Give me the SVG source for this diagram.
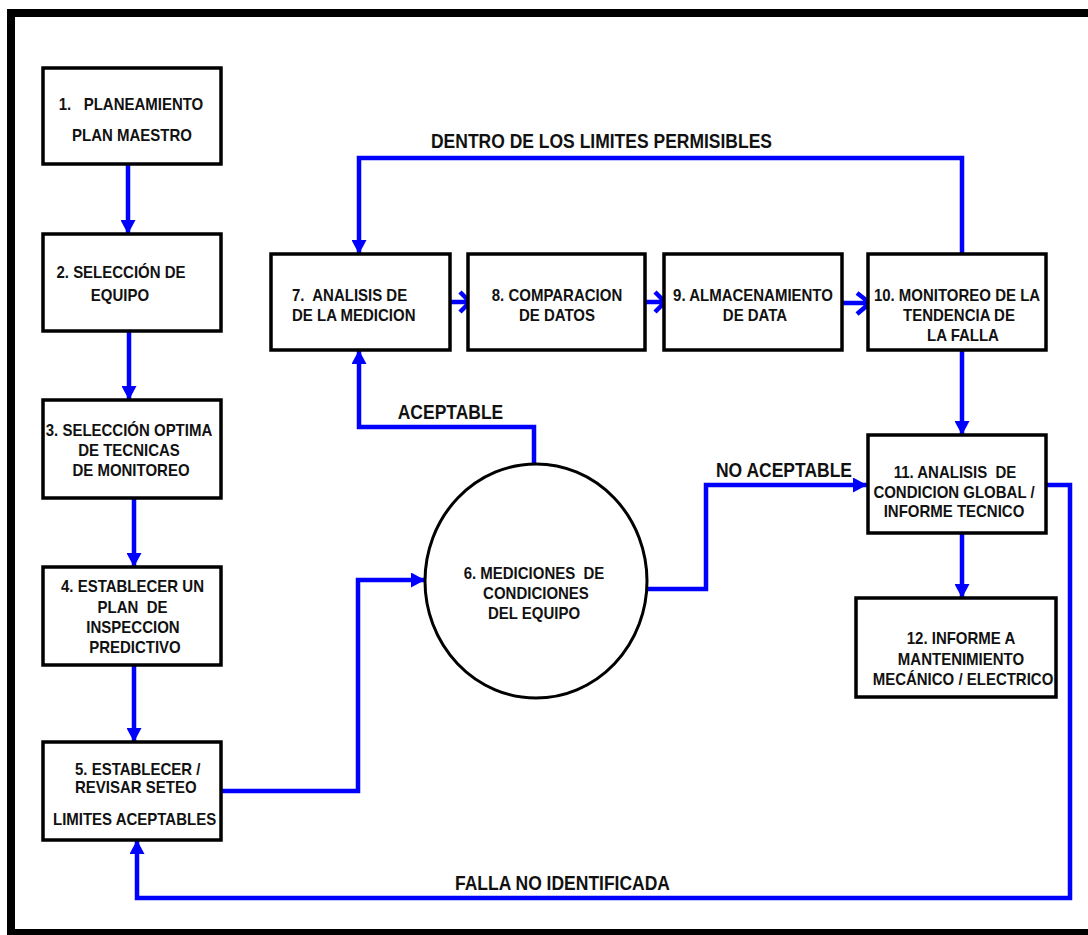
<svg xmlns="http://www.w3.org/2000/svg" width="1088" height="935" viewBox="0 0 1088 935">
  <style>
    .box { fill: #ffffff; stroke: #000000; stroke-width: 3.5; }
    .t { font-family: "Liberation Sans", Arial, sans-serif; font-weight: bold; font-size: 15px; fill: #111111; text-anchor: middle;
         transform-box: fill-box; transform-origin: center; transform: scaleY(1.09); }
    .ts { text-anchor: start; }
    .lbl { font-family: "Liberation Sans", Arial, sans-serif; font-weight: bold; font-size: 17.5px; fill: #111111; text-anchor: middle;
           transform-box: fill-box; transform-origin: center; transform: scaleY(1.15); }
    .wire { fill: none; stroke: #0000ff; stroke-width: 4.5; stroke-linejoin: miter; }
    .chev { fill: none; stroke: #0000ff; stroke-width: 4.5; stroke-linejoin: miter; stroke-linecap: butt; }
  </style>
  <defs>
    <marker id="head" markerUnits="userSpaceOnUse" markerWidth="14" markerHeight="15" refX="14" refY="7.5" orient="auto" viewBox="0 0 14 15">
      <path d="M0,0 L14,7.5 L0,15 Z" fill="#0000ff"/>
    </marker>
  </defs>

  <rect width="1088" height="935" fill="#ffffff"/>
  <!-- outer frame (right side runs off the page) -->
  <rect x="11" y="13" width="1100" height="920" fill="none" stroke="#000000" stroke-width="8"/>

  <!-- connectors -->
  <g id="connectors">
    <path class="wire" d="M128,165 V234" marker-end="url(#head)"/>
    <path class="wire" d="M129,331 V400" marker-end="url(#head)"/>
    <path class="wire" d="M134,498 V567" marker-end="url(#head)"/>
    <path class="wire" d="M134,665 V742" marker-end="url(#head)"/>
    <path class="wire" d="M222,791 H358 V580 H425" marker-end="url(#head)"/>
    <path class="wire" d="M534,465 V427 H359 V350" marker-end="url(#head)"/>
    <path class="wire" d="M647,589 H706 V485 H867" marker-end="url(#head)"/>
    <path class="wire" d="M962,254 V158 H359 V254" marker-end="url(#head)"/>
    <path class="wire" d="M962,350 V435" marker-end="url(#head)"/>
    <path class="wire" d="M962,533 V598" marker-end="url(#head)"/>
    <path class="wire" d="M1047,485 H1070 V898 H137 V840" marker-end="url(#head)"/>
    <!-- short links with open heads -->
    <path class="chev" d="M450,302 H469 M460,292 L470,302 L460,312"/>
    <path class="chev" d="M645,302 H664 M655,292 L665,302 L655,312"/>
    <path class="chev" d="M842,303 H870 M857,293 L870,303 L857,314"/>
  </g>

  <!-- connector labels -->
  <g id="labels">
    <text class="lbl" x="601.5" y="147.5">DENTRO DE LOS LIMITES PERMISIBLES</text>
    <text class="lbl" x="450.5" y="418.5">ACEPTABLE</text>
    <text class="lbl" x="784" y="476.5">NO ACEPTABLE</text>
    <text class="lbl" x="562.5" y="889.5">FALLA NO IDENTIFICADA</text>
  </g>

  <g id="n1">
    <rect class="box" x="43" y="68" width="178" height="96"/>
    <text class="t" x="131" y="110" xml:space="preserve">1.   PLANEAMIENTO</text>
    <text class="t" x="132" y="141">PLAN MAESTRO</text>
  </g>

  <g id="n2">
    <rect class="box" x="43" y="234" width="178" height="97"/>
    <text class="t" x="121" y="277">2. SELECCIÓN DE</text>
    <text class="t" x="120" y="301">EQUIPO</text>
  </g>

  <g id="n3">
    <rect class="box" x="43" y="400" width="178" height="98"/>
    <text class="t" x="129" y="435.5">3. SELECCIÓN OPTIMA</text>
    <text class="t" x="129" y="456">DE TECNICAS</text>
    <text class="t" x="131" y="475.5">DE MONITOREO</text>
  </g>

  <g id="n4">
    <rect class="box" x="43" y="567" width="178" height="98"/>
    <text class="t" x="132.5" y="591.5">4. ESTABLECER UN</text>
    <text class="t" x="132.5" y="612.5" xml:space="preserve">PLAN  DE</text>
    <text class="t" x="133" y="632.5">INSPECCION</text>
    <text class="t" x="135" y="652.5">PREDICTIVO</text>
  </g>

  <g id="n5">
    <rect class="box" x="43" y="742" width="178" height="98"/>
    <text class="t ts" x="75" y="774.5">5. ESTABLECER /</text>
    <text class="t ts" x="75" y="792.5">REVISAR SETEO</text>
    <text class="t ts" x="53" y="824.5">LIMITES ACEPTABLES</text>
  </g>

  <g id="n6">
    <ellipse cx="536" cy="581" rx="111" ry="117" fill="#ffffff" stroke="#000000" stroke-width="3"/>
    <text class="t" x="534" y="578.5" xml:space="preserve">6. MEDICIONES  DE</text>
    <text class="t" x="536" y="598.5">CONDICIONES</text>
    <text class="t" x="534" y="618.5">DEL EQUIPO</text>
  </g>

  <g id="n7">
    <rect class="box" x="271" y="254" width="179" height="96"/>
    <text class="t ts" x="292" y="300.5" xml:space="preserve">7.  ANALISIS DE</text>
    <text class="t ts" x="292" y="320.5">DE LA MEDICION</text>
  </g>

  <g id="n8">
    <rect class="box" x="468" y="254" width="177" height="96"/>
    <text class="t" x="557" y="300.5">8. COMPARACION</text>
    <text class="t" x="557" y="320.5">DE DATOS</text>
  </g>

  <g id="n9">
    <rect class="box" x="664" y="254" width="178" height="96"/>
    <text class="t" x="753" y="300.5">9. ALMACENAMIENTO</text>
    <text class="t" x="755" y="320.5">DE DATA</text>
  </g>

  <g id="n10">
    <rect class="box" x="868" y="254" width="178" height="96"/>
    <text class="t" x="957" y="300.5">10. MONITOREO DE LA</text>
    <text class="t" x="959" y="320.5">TENDENCIA DE</text>
    <text class="t" x="963" y="340.5">LA FALLA</text>
  </g>

  <g id="n11">
    <rect class="box" x="868" y="435" width="178" height="98"/>
    <text class="t" x="955" y="477.5" xml:space="preserve">11. ANALISIS  DE</text>
    <text class="t" x="954" y="497.5">CONDICION GLOBAL /</text>
    <text class="t" x="954" y="516.5">INFORME TECNICO</text>
  </g>

  <g id="n12">
    <rect class="box" x="856" y="598" width="200" height="99"/>
    <text class="t" x="961" y="643.5">12. INFORME A</text>
    <text class="t" x="961" y="664.5">MANTENIMIENTO</text>
    <text class="t" x="963" y="684.5">MECÁNICO / ELECTRICO</text>
  </g>
</svg>
